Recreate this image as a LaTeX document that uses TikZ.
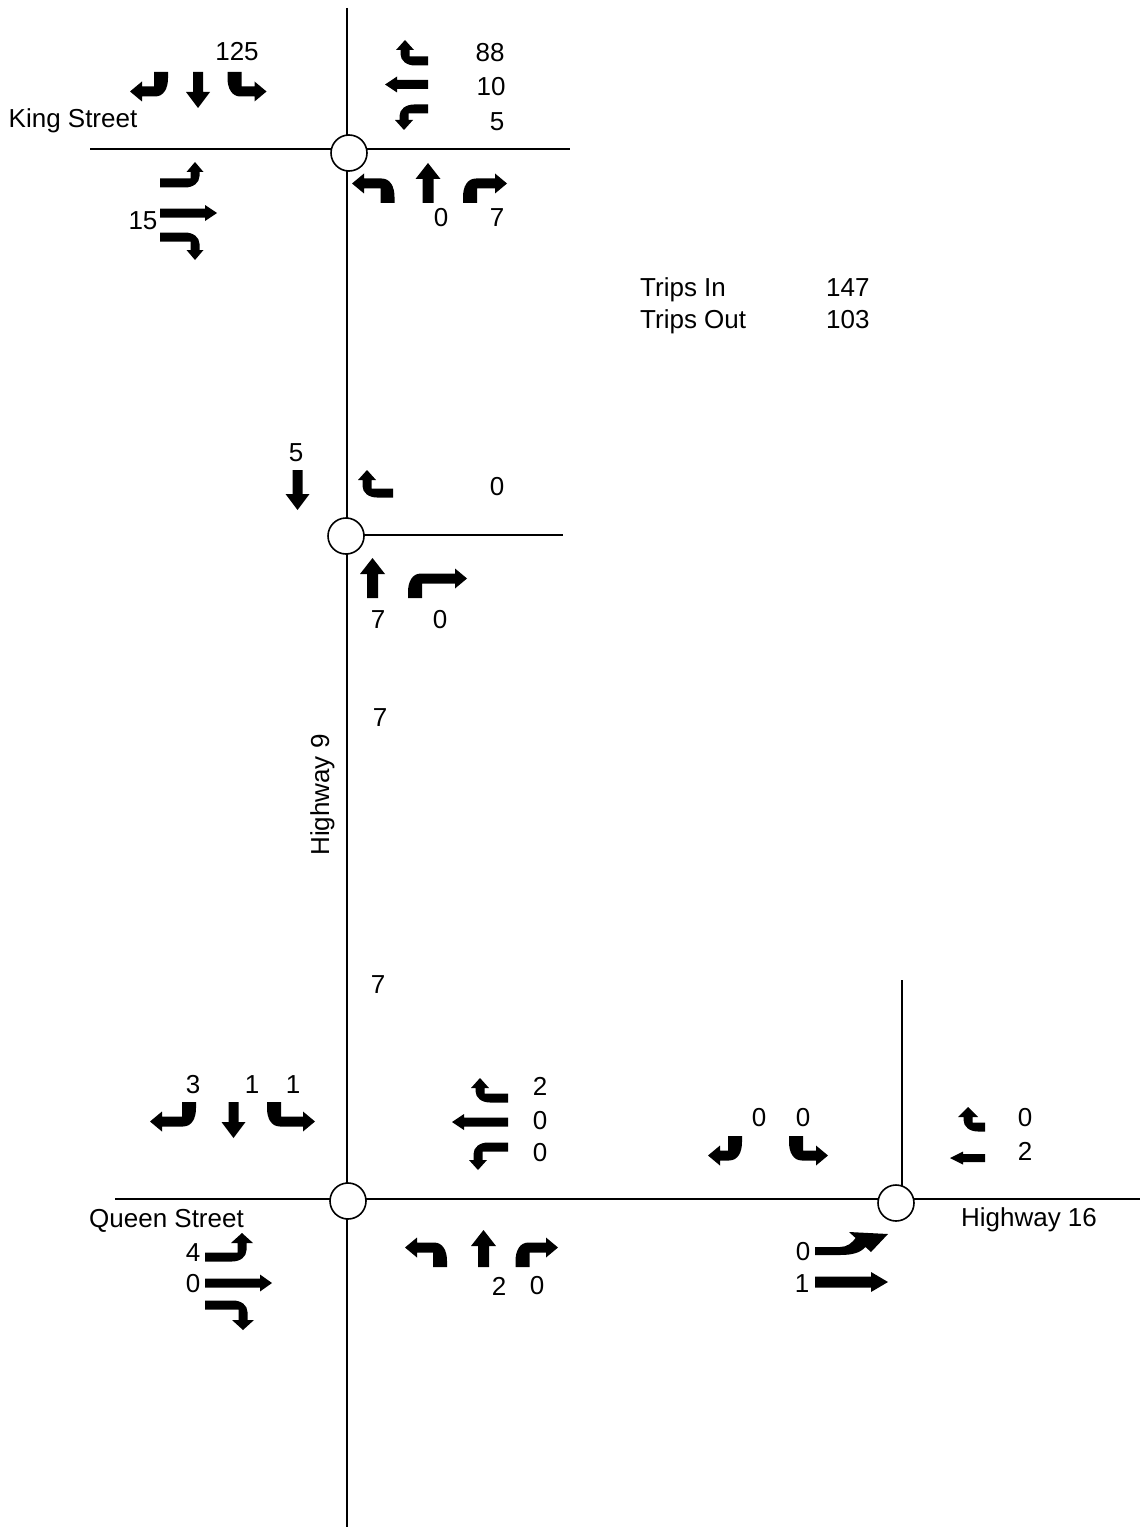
\documentclass[tikz,border=0pt]{standalone}
\usepackage{fontspec}
\setmainfont{Liberation Sans}
\tikzset{
 aU/.style={x={(0pt,1pt)}}, aD/.style={x={(0pt,-1pt)}}, aL/.style={x={(-1pt,0pt)}}, aR/.style={x={(1pt,0pt)}},
 bU/.style={y={(0pt,1pt)}}, bD/.style={y={(0pt,-1pt)}}, bL/.style={y={(-1pt,0pt)}}, bR/.style={y={(1pt,0pt)}},
 road/.style={line width=1.6pt},
 junction/.style={circle, draw, line width=1.6pt, fill=white, minimum size=36pt, inner sep=0pt},
 lab/.style={font=\fontsize{26}{31}\selectfont, inner sep=0pt},
 glyph/.style={fill=black},
}
% turn arrow with vertical stem (N/S approaches): base, directions, tip offset
\newcommand\turnNS[3]{\begin{scope}[shift={#1},#2]
 \fill[glyph] (0,-7) -- (6,-7) .. controls (16,-7) and (24.5,-3) .. (24.5,6) -- (24.5,{#3-12}) -- (29.5,{#3-12}) -- (19.5,#3) -- (9.5,{#3-12}) -- (14.5,{#3-12}) -- (14.5,7) -- (0,7) -- cycle;
\end{scope}}
% turn arrow with horizontal stem (E/W approaches): base, directions, L, rise, head half width
\newcommand\turnEW[5]{\begin{scope}[shift={#1},#2]
 \fill[glyph] (0,-4.5) -- ({#3-10},-4.5) .. controls ({#3-2},-4.5) and ({#3+4.5},0) .. ({#3+4.5},7) -- ({#3+4.5},{#4-10}) -- ({#3+#5},{#4-10}) -- (#3,#4) -- ({#3-#5},{#4-10}) -- ({#3-4.5},{#4-10}) -- ({#3-4.5},4.5) -- (0,4.5) -- cycle;
\end{scope}}
% straight arrow: base, directions, length, shaft half, head half, head length
\newcommand\sarrow[6]{\begin{scope}[shift={#1},#2]
 \fill[glyph] (0,-#4) -- ({#3-#6},-#4) -- ({#3-#6},-#5) -- (#3,0) -- ({#3-#6},#5) -- ({#3-#6},#4) -- (0,#4) -- cycle;
\end{scope}}
\begin{document}
\begin{tikzpicture}[x=1pt,y=-1pt]
\fill[white] (0,0) rectangle (1140,1533);
\useasboundingbox (0,0) rectangle (1140,1533);
% roads
\coordinate (hw9n) at (347,8); \coordinate (hw9s) at (347,1527);
\coordinate (kingw) at (90,149); \coordinate (kinge) at (570,149);
\coordinate (midw) at (347,535); \coordinate (mide) at (563,535);
\coordinate (queenw) at (115,1199); \coordinate (hw16e) at (1140,1199);
\coordinate (hw16n) at (902,980); \coordinate (hw16s) at (902,1199);
\draw[road] (hw9n) -- (hw9s);
\draw[road] (kingw) -- (kinge);
\draw[road] (midw) -- (mide);
\draw[road] (queenw) -- (hw16e);
\draw[road] (hw16n) -- (hw16s);
\node[junction] (K) at (349,153) {};
\node[junction] (M) at (346,536) {};
\node[junction] (Q) at (348,1201) {};
\node[junction] (H) at (896,1203) {};
% King Street intersection
\turnNS{(161,72)}{aD,bL}{31}
\sarrow{(198,72)}{aD,bL}{36}{5}{12}{16}
\turnNS{(234.5,72)}{aD,bR}{32}
\turnEW{(428,61)}{aL,bU}{23}{21}{9}
\sarrow{(428,84.5)}{aL,bU}{43}{4.5}{8}{12}
\turnEW{(428,109)}{aL,bD}{24}{21}{9}
\turnEW{(160,183)}{aR,bU}{35}{21}{8.5}
\sarrow{(160,213)}{aR,bU}{57}{4.5}{8}{12}
\turnEW{(160,237)}{aR,bD}{35}{23}{8.5}
\turnNS{(387.5,203)}{aU,bL}{35.5}
\sarrow{(428,203)}{aU,bL}{40}{5.5}{12.5}{16}
\turnNS{(470,203)}{aU,bR}{37}
% middle intersection
\sarrow{(297.5,470)}{aD,bL}{40}{5}{12}{16}
\turnEW{(393,493)}{aL,bU}{26}{23}{9}
\sarrow{(372.5,598)}{aU,bL}{40}{5.5}{12.5}{16}
\turnNS{(415,598)}{aU,bR}{52}
% Queen Street intersection
\turnNS{(189,1102)}{aD,bL}{39}
\sarrow{(233.5,1102)}{aD,bL}{36}{5}{12}{16}
\turnNS{(274,1102)}{aD,bR}{41}
\turnEW{(508,1098)}{aL,bU}{28}{20}{9}
\sarrow{(508,1122)}{aL,bU}{56}{4.5}{8}{12}
\turnEW{(508,1147)}{aL,bD}{30}{23}{9}
\turnNS{(440,1267)}{aU,bL}{35}
\sarrow{(483.5,1267)}{aU,bL}{37}{5.5}{12.5}{16}
\turnNS{(522.5,1267)}{aU,bR}{35.5}
\turnEW{(205,1257)}{aR,bU}{37}{24}{11}
\sarrow{(205,1283)}{aR,bU}{67}{4.5}{8.5}{12}
\turnEW{(205,1305)}{aR,bD}{38}{25}{11}
% Highway 16 intersection
\turnNS{(735,1136)}{aD,bL}{27}
\turnNS{(796,1136)}{aD,bR}{32}
\turnEW{(985,1127)}{aL,bU}{17}{20}{10}
\sarrow{(985,1158)}{aL,bU}{35}{4}{6.5}{13}
\fill[glyph] (815,1247) -- (840,1247) .. controls (847,1247) and (852,1243) .. (855.6,1238) -- (849,1232) -- (888,1234) -- (871,1252) -- (865.5,1247) .. controls (860,1253) and (852,1255) .. (840,1255) -- (815,1255) -- cycle;
\sarrow{(815,1282)}{aR,bU}{73}{5.5}{10}{17}
% labels
\node[lab, anchor=base] (tKing) at (73,128) {King Street};
\node[lab] (k125) at (237,52) {125};
\node[lab] (k88) at (490,53) {88};
\node[lab] (k10) at (491,86.5) {10};
\node[lab] (k5) at (497,121.5) {5};
\node[lab] (k15) at (143,220.5) {15};
\node[lab] (k0) at (441,218) {0};
\node[lab] (k7) at (497,218) {7};
\node[lab, anchor=base west] (tIn) at (640,296) {Trips In};
\node[lab, anchor=base west] (tOut) at (640,328) {Trips Out};
\node[lab, anchor=base west] (vIn) at (826,296) {147};
\node[lab, anchor=base west] (vOut) at (826,328) {103};
\node[lab] (m5) at (296,453) {5};
\node[lab] (m0a) at (497,487) {0};
\node[lab] (m7) at (378,620) {7};
\node[lab] (m0b) at (440,620) {0};
\node[lab] (s7a) at (380,718) {7};
\node[lab, anchor=base, rotate=90] (tHw9) at (329,795) {Highway 9};
\node[lab] (s7b) at (378,985) {7};
\node[lab] (q3) at (193,1085) {3};
\node[lab] (q1a) at (252,1085) {1};
\node[lab] (q1b) at (293,1085) {1};
\node[lab] (q2) at (540,1086) {2};
\node[lab] (q0a) at (540,1121) {0};
\node[lab] (q0b) at (540,1153) {0};
\node[lab, anchor=base] (tQueen) at (166.5,1227) {Queen Street};
\node[lab] (q4) at (193,1253) {4};
\node[lab] (q0c) at (193,1284) {0};
\node[lab] (q2b) at (499,1286) {2};
\node[lab] (q0d) at (537,1286) {0};
\node[lab] (h0a) at (759,1118) {0};
\node[lab] (h0b) at (803,1118) {0};
\node[lab] (h0c) at (1025,1118) {0};
\node[lab] (h2) at (1025,1151) {2};
\node[lab, anchor=base] (tHw16) at (1029,1226) {Highway 16};
\node[lab] (h0d) at (803,1252) {0};
\node[lab] (h1) at (802,1284) {1};
\end{tikzpicture}
\end{document}
